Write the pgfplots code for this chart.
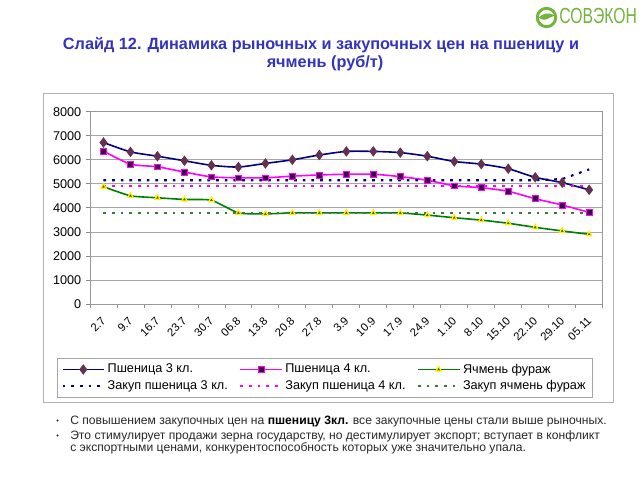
\documentclass[border=0pt]{standalone}
\usepackage{fontspec}
\setmainfont{Liberation Sans}
\usepackage{pgfplots}
\pgfplotsset{compat=1.18}
\definecolor{navyc}{RGB}{0,0,128}
\definecolor{magc}{RGB}{255,0,255}
\definecolor{grnc}{RGB}{0,128,0}
\definecolor{dgrn}{RGB}{60,120,60}
\definecolor{diamf}{RGB}{100,50,80}
\definecolor{sqf}{RGB}{60,0,70}
\definecolor{trif}{RGB}{90,80,0}
\definecolor{titleblue}{RGB}{51,51,187}
\definecolor{logogreen}{RGB}{115,180,60}
\definecolor{txtgray}{RGB}{40,40,40}
\begin{document}
\begin{tikzpicture}
\useasboundingbox (0,0) rectangle (480pt,360pt);
\begin{scope}[shift={(0,360pt)},x=0.75pt,y=-0.75pt]
 % logo
 \draw[logogreen, line width=2.2pt] (546.5,17.5) circle (6.9pt);
 \fill[logogreen] (539,17.5) .. controls (543,12.5) and (550,12.5) .. (555,15.5) -- (550,17.5) .. controls (546,20.5) and (542,20.5) .. (539,17.5) -- cycle;
 \node[anchor=west, inner sep=0pt, text=logogreen] at (559,16.2) {\scalebox{0.72}[1]{\fontsize{16.4}{18}\selectfont СОВЭКОН}};
 % title
 \node[anchor=base, inner sep=0pt, text=titleblue, font=\bfseries\fontsize{12.2}{15}\selectfont] at (321,49.3) {Слайд 12. Динамика рыночных и закупочных цен на пшеницу и};
 \node[anchor=base, inner sep=0pt, text=titleblue, font=\bfseries\fontsize{12.2}{15}\selectfont] at (325,67.5) {ячмень (руб/т)};
 % chart frame
 \draw[gray!60, line width=0.75pt] (43,93) rectangle (613,402);
 % bullets
 \fill[txtgray] (57.5,420.5) circle (0.8pt);
 \fill[txtgray] (57.5,435.5) circle (0.8pt);
 \node[anchor=base west, inner sep=0pt, text=txtgray, font=\fontsize{9.1}{10}\selectfont] at (70,424.5) {С повышением закупочных цен на \textbf{\textcolor{black}{пшеницу 3кл.}} все закупочные цены стали выше рыночных.};
 \node[anchor=base west, inner sep=0pt, text=txtgray, font=\fontsize{9.1}{10}\selectfont] at (70,439.5) {Это стимулирует продажи зерна государству, но дестимулирует экспорт; вступает в конфликт};
 \node[anchor=base west, inner sep=0pt, text=txtgray, font=\fontsize{9.1}{10}\selectfont] at (70,451.5) {с экспортными ценами, конкурентоспособность которых уже значительно упала.};
\end{scope}
\begin{axis}[
  at={(67.5pt,132pt)}, anchor=south west,
  scale only axis, width=384.5pt, height=144.2pt,
  xmin=-0.5, xmax=18.5, ymin=0, ymax=8000,
  axis line style={gray!80, line width=0.6pt},
  ytick={0,1000,...,8000},
  ymajorgrids, grid style={gray!70, line width=0.6pt},
  scaled y ticks=false,
  tick align=outside, tick pos=left,
  major tick length=3pt, minor tick length=3pt,
  tick style={gray!90, line width=0.6pt},
  xtick={0,...,18},
  major x tick style={draw=none},
  minor xtick={-0.5,0.5,...,18.5},
  xticklabels={2.7,9.7,16.7,23.7,30.7,06.8,13.8,20.8,27.8,3.9,10.9,17.9,24.9,1.10,8.10,15.10,22.10,29.10,05.11},
  yticklabel style={font=\fontsize{9.5}{11}\selectfont, /pgf/number format/1000 sep={}},
  /pgf/number format/assume math mode=true,
  xticklabel style={font=\fontsize{8.5}{10}\selectfont, yshift=-5pt, xshift=-2pt, rotate=45, anchor=north east, inner sep=0.5pt},
  legend columns=3,
  legend cell align=left,
  legend style={at={(-0.0638,-0.2824)}, anchor=north west, draw=gray!70,
    font=\fontsize{9.5}{11}\selectfont,
    /tikz/every even column/.append style={column sep=6.5pt}},
  legend image code/.code={\draw[mark repeat=2,mark phase=2,#1] plot coordinates {(0pt,0pt) (15.5pt,0pt) (31pt,0pt)};},
]
\addplot[navyc, line width=1.2pt, smooth, tension=0.4, mark=diamond*, mark size=3pt, mark options={fill=diamf, draw=diamf, solid}] coordinates {
(0,6720)(1,6330)(2,6150)(3,5960)(4,5770)(5,5700)(6,5850)(7,6000)(8,6200)(9,6350)(10,6350)(11,6300)(12,6150)(13,5930)(14,5820)(15,5630)(16,5270)(17,5050)(18,4750)};
\addlegendentry{Пшеница 3 кл.}
\addplot[magc, line width=1.2pt, smooth, tension=0.4, mark=square*, mark size=2.2pt, mark options={fill=sqf, draw=magc, line width=0.5pt, solid}] coordinates {
(0,6360)(1,5820)(2,5710)(3,5490)(4,5290)(5,5250)(6,5250)(7,5320)(8,5370)(9,5400)(10,5400)(11,5300)(12,5150)(13,4920)(14,4840)(15,4690)(16,4380)(17,4120)(18,3810)};
\addlegendentry{Пшеница 4 кл.}
\addplot[grnc, line width=1.2pt, smooth, tension=0.3, mark=triangle*, mark size=2.3pt, mark options={fill=trif, draw=yellow, line width=0.9pt, solid}] coordinates {
(0,4880)(1,4500)(2,4420)(3,4350)(4,4320)(5,3790)(6,3750)(7,3790)(8,3790)(9,3790)(10,3790)(11,3790)(12,3700)(13,3590)(14,3490)(15,3360)(16,3190)(17,3040)(18,2900)};
\addlegendentry{Ячмень фураж}
\addplot[navyc, line width=1.6pt, dash pattern=on 2pt off 4.5pt] coordinates {
(0,5150)(1,5150)(2,5150)(3,5150)(4,5150)(5,5150)(6,5150)(7,5150)(8,5150)(9,5150)(10,5150)(11,5150)(12,5150)(13,5150)(14,5150)(15,5150)(16,5150)(17,5200)(18,5600)};
\addlegendentry{Закуп пшеница 3 кл.}
\addplot[magc, line width=1.6pt, dash pattern=on 2pt off 4.5pt] coordinates {
(0,4900)(1,4900)(2,4900)(3,4900)(4,4900)(5,4900)(6,4900)(7,4900)(8,4900)(9,4900)(10,4900)(11,4900)(12,4900)(13,4900)(14,4900)(15,4900)(16,4900)(17,4900)(18,4900)};
\addlegendentry{Закуп пшеница 4 кл.}
\addplot[dgrn, line width=1.6pt, dash pattern=on 2pt off 4.5pt] coordinates {
(0,3800)(1,3800)(2,3800)(3,3800)(4,3800)(5,3800)(6,3800)(7,3800)(8,3800)(9,3800)(10,3800)(11,3800)(12,3800)(13,3800)(14,3800)(15,3800)(16,3800)(17,3800)(18,3800)};
\addlegendentry{Закуп ячмень фураж}
\end{axis}
\end{tikzpicture}
\end{document}
